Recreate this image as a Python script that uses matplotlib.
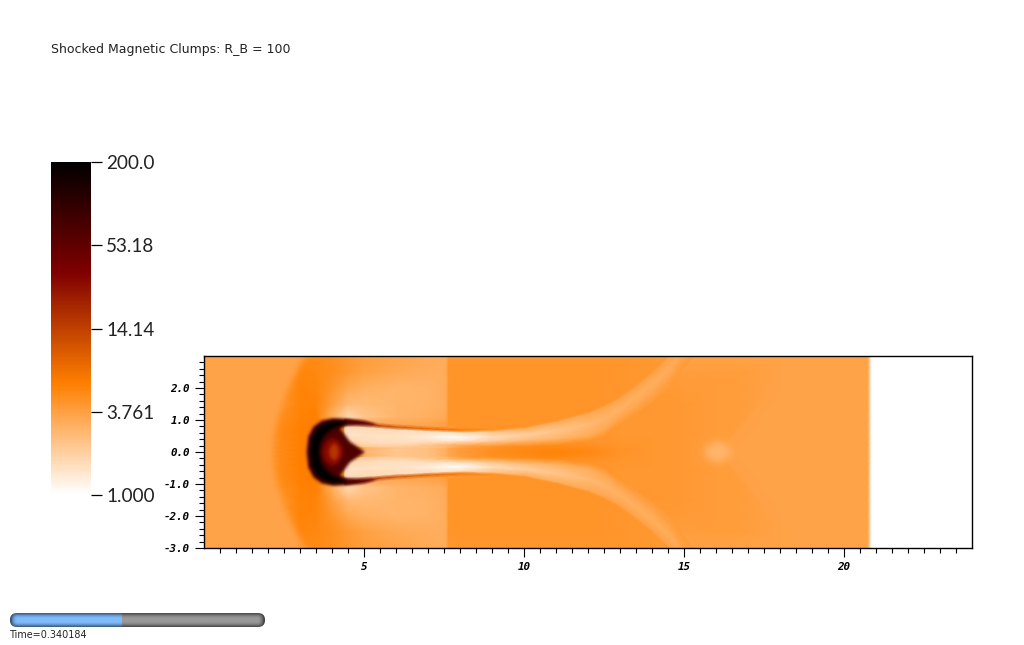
import numpy as np
import matplotlib
matplotlib.use("Agg")
import matplotlib.pyplot as plt
from matplotlib.colors import LinearSegmentedColormap, LogNorm
from matplotlib.patches import FancyBboxPatch, Rectangle

title_text = "Shocked Magnetic Clumps: R_B = 100"
time_text = "Time=0.340184"
slider_fraction = 0.44

bar_ticks = [1.0, 3.761, 14.14, 53.18, 200.0]
bar_labels = ["1.000", "3.761", "14.14", "53.18", "200.0"]
x_major = [5, 10, 15, 20]
y_major = [-3, -2, -1, 0, 1, 2]
y_labels = ["-3.0", "-2.0", "-1.0", "0.0", "1.0", "2.0"]

# slowly varying part of the field, upper half only (it is mirrored at y=0)
base_x = [0, 2, 3, 3.5, 4, 4.5, 5, 6, 7, 7.55, 7.65, 8, 9, 10, 11, 12, 13, 14, 15,
          15.6, 16, 16.5, 17, 18, 19, 20, 20.72, 20.85, 24]
base_y = [0, 0.12, 0.3, 0.5, 0.8, 1.1, 1.5, 2, 2.5, 3]
base_values = [
    [3.5, 4.5, 5.9, 6, 6, 6, 2.6, 2.2, 2.4, 3.0, 3.4, 4.0, 4.8, 5.2, 5.6, 5.2, 4.4, 4.2, 4.1, 3.9, 3.7, 3.7, 3.6, 3.6, 3.6, 3.6, 3.6, 1, 1],
    [3.5, 4.5, 5.9, 6, 6, 6, 3.0, 2.2, 2.4, 3.0, 3.4, 3.9, 4.6, 5.0, 5.2, 4.9, 4.4, 4.2, 4.1, 3.9, 3.7, 3.7, 3.6, 3.6, 3.6, 3.6, 3.6, 1, 1],
    [3.5, 4.5, 5.9, 6, 6, 3, 2.0, 1.7, 1.6, 1.7, 1.8, 2.4, 4.2, 4.6, 4.6, 4.4, 4.3, 4.2, 4.1, 3.9, 3.7, 3.7, 3.6, 3.6, 3.6, 3.6, 3.6, 1, 1],
    [3.5, 4.6, 5.9, 6, 6, 3, 1.6, 1.6, 1.6, 1.7, 1.8, 2.4, 4.2, 4.4, 4.4, 4.4, 4.2, 4.2, 4.1, 4.0, 3.9, 3.8, 3.6, 3.6, 3.6, 3.6, 3.6, 1, 1],
    [3.5, 4.6, 5.8, 6, 6, 5, 4.5, 3.5, 3.6, 3.8, 4.4, 4.4, 4.4, 4.4, 4.4, 4.3, 4.2, 4.2, 4.1, 4.0, 3.9, 3.9, 3.7, 3.6, 3.6, 3.6, 3.6, 1, 1],
    [3.5, 4.4, 5.6, 5.8, 3.0, 1.7, 2.2, 2.8, 3.0, 3.2, 4.4, 4.4, 4.4, 4.4, 4.4, 4.4, 4.2, 4.2, 4.1, 4.0, 3.9, 3.9, 3.8, 3.6, 3.6, 3.6, 3.6, 1, 1],
    [3.5, 3.7, 5.6, 5.6, 3.8, 2.6, 2.6, 2.8, 2.9, 3.1, 4.4, 4.4, 4.4, 4.4, 4.4, 4.4, 4.3, 4.2, 4.1, 4.0, 3.9, 3.9, 3.8, 3.6, 3.6, 3.6, 3.6, 1, 1],
    [3.5, 3.5, 5.6, 5.4, 4.4, 3.4, 3.0, 2.8, 2.9, 3.1, 4.4, 4.4, 4.4, 4.4, 4.4, 4.4, 4.3, 4.2, 4.0, 4.0, 3.9, 3.9, 3.8, 3.6, 3.6, 3.6, 3.6, 1, 1],
    [3.5, 3.5, 5.4, 5.2, 4.8, 4.2, 3.7, 3.3, 3.1, 3.1, 4.4, 4.4, 4.4, 4.4, 4.4, 4.4, 4.3, 4.2, 3.8, 3.9, 3.9, 3.9, 3.8, 3.6, 3.6, 3.6, 3.6, 1, 1],
    [3.5, 3.5, 5.0, 5.0, 4.7, 4.3, 3.9, 3.5, 3.2, 3.1, 4.3, 4.3, 4.3, 4.3, 4.3, 4.3, 4.3, 4.2, 3.5, 3.6, 3.6, 3.6, 3.6, 3.6, 3.6, 3.6, 3.6, 1, 1],
]

# light stream that leaves the clump and forks away, rows run outer to inner
stream_x = [4.4, 5, 5.5, 6, 6.5, 7, 7.5, 8, 9, 10, 11, 12, 12.5, 13, 13.5, 14, 14.5, 15, 15.5]
stream_y = [
    [1.06, 1.02, 0.92, 0.87, 0.84, 0.81, 0.79, 0.77, 0.76, 0.86, 1.04, 1.30, 1.50, 1.80, 2.17, 2.57, 3.02, 3.45, 3.9],
    [0.96, 0.90, 0.81, 0.77, 0.74, 0.71, 0.69, 0.67, 0.69, 0.78, 0.98, 1.24, 1.44, 1.72, 2.09, 2.49, 2.97, 3.42, 3.9],
    [0.78, 0.76, 0.72, 0.68, 0.66, 0.63, 0.61, 0.59, 0.62, 0.71, 0.92, 1.18, 1.38, 1.65, 2.02, 2.42, 2.92, 3.4, 3.9],
    [0.55, 0.52, 0.50, 0.48, 0.47, 0.47, 0.47, 0.46, 0.47, 0.53, 0.66, 0.84, 1.03, 1.35, 1.70, 2.10, 2.56, 3.16, 3.65],
    [0.33, 0.28, 0.27, 0.27, 0.28, 0.31, 0.32, 0.33, 0.33, 0.35, 0.39, 0.49, 0.67, 1.03, 1.36, 1.76, 2.18, 2.90, 3.4],
    [0.2, 0.17, 0.16, 0.16, 0.16, 0.19, 0.2, 0.2, 0.18, 0.2, 0.24, 0.34, 0.50, 0.86, 1.18, 1.56, 1.96, 2.66, 3.2],
]
stream_values = [
    [2.0, 2.4, 2.6, 3, 3.2, 3.4, 3.6, 4.0, 4.4, 4.4, 4.4, 4.4, 4.4, 4.3, 4.3, 4.2, 4.2, 3.6, 3.6],
    [40, 30, 14, 11, 9.5, 8.5, 7.5, 6.5, 4.6, 4.4, 4.3, 4.2, 4.2, 4.2, 4.1, 4.1, 4.0, 3.6, 3.6],
    [1.6, 1.7, 1.7, 1.6, 1.6, 1.6, 1.5, 1.6, 2.3, 3.0, 3.1, 3.3, 3.4, 3.5, 3.5, 3.6, 3.6, 3.6, 3.6],
    [1.5, 1.5, 1.5, 1.5, 1.4, 1.3, 1.1, 1.05, 1.6, 1.9, 2.2, 2.6, 2.8, 2.9, 3.0, 3.0, 3.1, 3.3, 3.6],
    [1.7, 1.7, 1.6, 1.6, 1.6, 1.6, 1.5, 1.5, 2.1, 2.6, 2.9, 3.2, 3.4, 3.5, 3.6, 3.6, 3.7, 3.7, 3.7],
    [2.2, 2.1, 2.1, 2.1, 2.2, 2.4, 2.8, 3.6, 4.4, 4.6, 4.6, 4.4, 4.3, 4.2, 4.1, 4.0, 4.0, 4.0, 3.9],
]

# upstream gas left of the bow shock and the calmer zone far downstream
shock_x = [-0.4, -0.4, 3.4, 3.16, 2.9, 2.7, 2.5, 2.37, 2.25, 2.18, 2.16]
shock_y = [0, 3.4, 3.4, 3.0, 2.55, 2.15, 1.7, 1.3, 0.8, 0.4, 0]
shock_value = 3.5
wake_x = [20.75, 20.75, 18.3, 18.1, 17.6, 16.9, 16.43, 16.3]
wake_y = [0, 3.4, 3.4, 3.0, 1.94, 0.9, 0.37, 0]
wake_value = 3.55
notch_x = [15.6, 15.72, 16.1, 16.55]
notch_y = [0, 0.18, 0.35, 0]
notch_value = 2.8

# clump layers, upper half outlines, drawn back to front
body_x = [3.21, 3.26, 3.42, 3.68, 4.04, 4.46, 4.9, 5.3, 5.3, 4.9, 4.46, 4.25, 4.56, 5.03]
body_y = [0, 0.48, 0.79, 0.98, 1.05, 1.03, 0.97, 0.88, 0.84, 0.86, 0.84, 0.74, 0.32, 0]
body_value = 70
black_x = [3.31, 3.36, 3.5, 3.72, 4.0, 4.35, 4.5, 4.05, 3.8, 3.65, 3.6]
black_y = [0, 0.45, 0.72, 0.88, 0.97, 0.96, 0.90, 0.74, 0.55, 0.3, 0]
black_value = 200
core_x = [3.7, 3.78, 3.98, 4.18, 4.32, 4.36]
core_y = [0, 0.27, 0.44, 0.38, 0.17, 0]
core_value = 30
heart_x = [3.9, 3.96, 4.08, 4.18, 4.22]
heart_y = [0, 0.18, 0.28, 0.18, 0]
heart_value = 16

slider_shade = [0.45, 0.6, 0.82, 0.95, 1.0, 1.0, 1.0, 0.95, 0.82, 0.6, 0.45]
slider_cap = [0.6, 0.35, 0.15, 0.05, 0.0]

cmap = LinearSegmentedColormap.from_list(
    "orangehot", [(1, 1, 1), (1, 0.5, 0), (0.5, 0, 0), (0, 0, 0)], N=512)
norm = LogNorm(vmin=1, vmax=200)


def soft_edge(sigma):
    """agg filter that blurs an artist a little, the plot is bilinear in the original."""
    pad = int(3 * sigma) + 1
    kernel = np.exp(-0.5 * (np.arange(-pad, pad + 1) / sigma) ** 2)
    kernel = kernel / kernel.sum()

    def blur(image, dpi):
        h, w, _ = image.shape
        out = np.zeros((h + 2 * pad, w + 2 * pad, 4))
        alpha = image[:, :, 3]
        for c in range(3):
            out[pad:pad + h, pad:pad + w, c] = image[:, :, c] * alpha
        out[pad:pad + h, pad:pad + w, 3] = alpha
        for c in range(4):
            out[:, :, c] = np.apply_along_axis(np.convolve, 0, out[:, :, c], kernel, "same")
            out[:, :, c] = np.apply_along_axis(np.convolve, 1, out[:, :, c], kernel, "same")
        a = np.maximum(out[:, :, 3], 1e-4)
        for c in range(3):
            out[:, :, c] = np.clip(out[:, :, c] / a, 0, 1)
        return out, -pad, -pad
    return blur


def draw_shape(ax, xs, ys, value, sigma, zorder):
    # outline is the upper half, the lower half is its mirror image
    xs = np.array(xs, dtype=float)
    ys = np.array(ys, dtype=float)
    px = np.concatenate([xs, xs[::-1]])
    py = np.concatenate([ys, -ys[::-1]])
    patch = ax.fill(px, py, color=cmap(norm(value)), lw=0, zorder=zorder, clip_on=False)[0]
    patch.set_agg_filter(soft_edge(sigma))


fig = plt.figure(figsize=(10.24, 6.45), dpi=100)

ax = fig.add_axes([204 / 1024, (645 - 548) / 645, 768 / 1024, 192 / 645])
bx = np.array(base_x, dtype=float)
by = np.array(base_y, dtype=float)
bv = np.array(base_values, dtype=float)
ax.pcolormesh(bx, np.concatenate([-by[:0:-1], by]), np.vstack([bv[:0:-1], bv]),
              shading="gouraud", cmap=cmap, norm=norm, zorder=1)

draw_shape(ax, wake_x, wake_y, wake_value, 2.0, 1.1)
draw_shape(ax, notch_x, notch_y, notch_value, 3.5, 1.15)

sx = np.array(stream_x, dtype=float)
sy = np.array(stream_y, dtype=float)
sv = np.array(stream_values, dtype=float)
sx_grid = np.tile(sx, (sy.shape[0], 1))
for sign in (1, -1):
    ax.pcolormesh(sx_grid, sign * sy, sv, shading="gouraud", cmap=cmap, norm=norm, zorder=1.2)

draw_shape(ax, shock_x, shock_y, shock_value, 3.5, 1.3)
draw_shape(ax, body_x, body_y, body_value, 1.5, 1.4)
draw_shape(ax, black_x, black_y, black_value, 1.8, 1.5)
draw_shape(ax, core_x, core_y, core_value, 1.8, 1.6)
draw_shape(ax, heart_x, heart_y, heart_value, 1.8, 1.7)

# blurred shapes spill past the frame, cover that with white
for rect in [(-1, -4, 1, 8), (-1, 3, 26, 1), (-1, -4, 26, 1)]:
    ax.add_patch(Rectangle(rect[:2], rect[2], rect[3], color="white", lw=0, clip_on=False, zorder=2.2))

ax.set_xlim(0, 24)
ax.set_ylim(-3, 3)
ax.set_axisbelow(False)
ax.set_xticks(x_major)
ax.set_xticklabels([str(v) for v in x_major])
ax.set_xticks(np.arange(0.5, 24, 0.5), minor=True)
ax.set_yticks(y_major)
ax.set_yticklabels(y_labels)
ax.set_yticks(np.arange(-3, 2.9, 0.2), minor=True)
ax.tick_params(which="major", length=6.5, width=0.8, color="black")
ax.tick_params(axis="x", which="major", pad=3.5)
ax.tick_params(axis="y", which="major", pad=3.5)
ax.tick_params(which="minor", length=3.5, width=0.8, color="black")
for label in ax.get_xticklabels() + ax.get_yticklabels():
    label.set_family("DejaVu Sans Mono")
    label.set_fontsize(7.8)
    label.set_weight("bold")
    label.set_style("oblique")
for spine in ax.spines.values():
    spine.set_linewidth(1.0)

# colour bar
bar = fig.add_axes([51 / 1024, (645 - 495) / 645, 40 / 1024, 333 / 645])
edges = np.geomspace(1, 200, 257)
bar.pcolormesh([0, 1], edges, edges[:-1].reshape(-1, 1), cmap=cmap, norm=norm)
bar.set_yscale("log")
bar.set_ylim(1, 200)
bar.set_xticks([])
bar.yaxis.tick_right()
bar.set_yticks(bar_ticks)
bar.set_yticklabels(bar_labels, family="Lato", fontsize=13.6, color="#222222")
bar.minorticks_off()
bar.tick_params(axis="y", length=8, width=0.9, pad=3)
for spine in bar.spines.values():
    spine.set_visible(False)

# title, time slider and time label live in a pixel overlay
over = fig.add_axes([0, 0, 1, 1], facecolor="none")
over.axis("off")
over.set_xlim(0, 1024)
over.set_ylim(645, 0)
over.text(51, 49, title_text, fontsize=8.97, color="#222222", va="center", ha="left", family="DejaVu Sans")
over.text(10, 635, time_text, fontsize=6.95, color="#222222", va="center", ha="left", family="DejaVu Sans")

track_left, track_right, track_top, track_bottom = 10, 265, 613, 627
split = track_left + slider_fraction * (track_right - track_left)
shade = np.array(slider_shade).reshape(-1, 1, 1)
blue = shade * np.array([0.50, 0.74, 1.0])
gray = shade * np.array([0.60, 0.60, 0.60])
pill = FancyBboxPatch((track_left + 7, track_top + 7), track_right - track_left - 14, track_bottom - track_top - 14,
                      boxstyle="round,pad=7,rounding_size=7", facecolor="none", edgecolor="none")
over.add_patch(pill)
for img, left, right in [(blue, track_left, split), (gray, split, track_right)]:
    im = over.imshow(img, extent=[left, right, track_bottom + 1, track_top - 1], aspect="auto",
                     interpolation="bilinear", zorder=3)
    im.set_clip_path(pill)
# darker rounded ends of the tube
cap = np.zeros((1, len(slider_cap), 4))
cap[0, :, 3] = slider_cap
left_cap = over.imshow(cap, extent=[track_left, track_left + 8, track_bottom + 1, track_top - 1],
                       aspect="auto", interpolation="bilinear", zorder=4)
right_cap = over.imshow(cap[:, ::-1], extent=[track_right - 8, track_right, track_bottom + 1, track_top - 1],
                        aspect="auto", interpolation="bilinear", zorder=4)
left_cap.set_clip_path(pill)
right_cap.set_clip_path(pill)
over.set_xlim(0, 1024)
over.set_ylim(645, 0)

fig.savefig("out.png", dpi=100)
